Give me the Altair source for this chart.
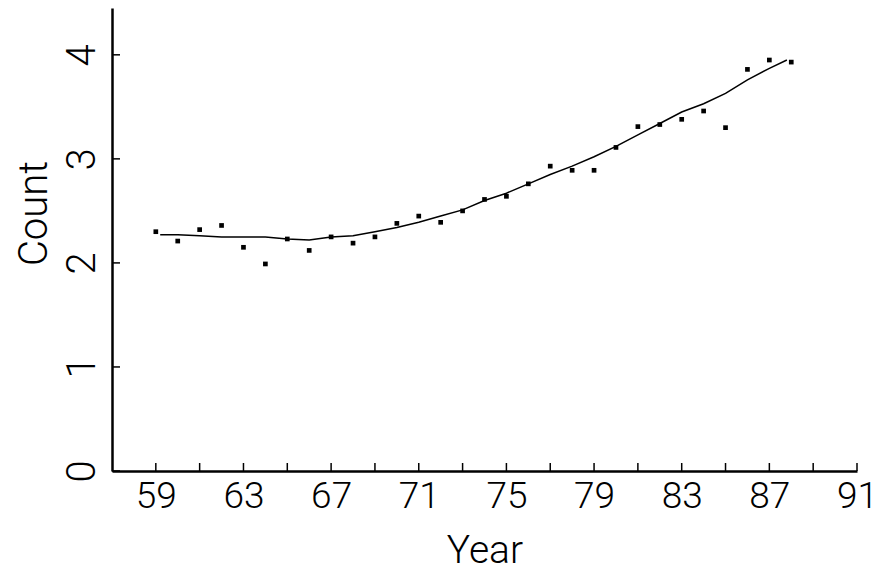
import altair as alt
import pandas as pd

# observed points
years = [59, 60, 61, 62, 63, 64, 65, 66, 67, 68, 69, 70, 71, 72, 73, 74,
         75, 76, 77, 78, 79, 80, 81, 82, 83, 84, 85, 86, 87, 88]
counts = [2.30, 2.21, 2.32, 2.36, 2.15, 1.99, 2.23, 2.12, 2.25, 2.19, 2.25,
          2.38, 2.45, 2.39, 2.50, 2.61, 2.64, 2.76, 2.93, 2.89, 2.89, 3.11,
          3.31, 3.33, 3.38, 3.46, 3.30, 3.86, 3.95, 3.93]

# smooth fitted curve
fit_years = [59.2, 60, 61, 62, 63, 64, 65, 66, 67, 68, 69, 70, 71, 72, 73,
             74, 75, 76, 77, 78, 79, 80, 81, 82, 83, 84, 85, 86, 87, 87.8]
fit_counts = [2.27, 2.27, 2.26, 2.25, 2.25, 2.25, 2.23, 2.22, 2.25, 2.26,
              2.30, 2.34, 2.39, 2.45, 2.51, 2.60, 2.67, 2.76, 2.85, 2.93,
              3.02, 3.12, 3.23, 3.34, 3.45, 3.53, 3.63, 3.76, 3.87, 3.95]

x_label_years = [59, 63, 67, 71, 75, 79, 83, 87, 91]
x_tick_years = [59, 61, 63, 65, 67, 69, 71, 73, 75, 77, 79, 81, 83, 85, 87, 89, 91]
y_ticks = [0, 1, 2, 3, 4]

FONT = "Roboto"
W, H = 745, 463

pts = pd.DataFrame({"Year": years, "Count": counts})
fit = pd.DataFrame({"Year": fit_years, "Count": fit_counts})
xt = pd.DataFrame({"Year": x_tick_years})
yt = pd.DataFrame({"Count": y_ticks})

xscale = alt.Scale(domain=[57, 91], nice=False, zero=False)
yscale = alt.Scale(domain=[0, 4.45], nice=False)

xaxis = alt.Axis(values=x_label_years, format="d", ticks=False, grid=False,
                 domainColor="black", domainWidth=2.5,
                 labelFont=FONT, labelFontSize=37, labelFontWeight=300,
                 labelColor="black", labelPadding=7, labelFlush=False,
                 title="Year", titleFont=FONT, titleFontSize=39,
                 titleFontWeight=300, titleColor="black", titlePadding=17)
yaxis = alt.Axis(values=y_ticks, format="d", ticks=False, grid=False,
                 domainColor="black", domainWidth=2.5,
                 labelFont=FONT, labelFontSize=40, labelFontWeight=300,
                 labelColor="black", labelAngle=270, labelAlign="center",
                 labelBaseline="bottom", labelPadding=10,
                 title="Count", titleFont=FONT, titleFontSize=40,
                 titleFontWeight=300, titleColor="black", titleAngle=270,
                 titleX=-58, titleY=205, titleAlign="center",
                 titleBaseline="bottom")

base_points = alt.Chart(pts).mark_point(
    shape="square", filled=True, color="black", size=22, opacity=1
).encode(
    x=alt.X("Year:Q", scale=xscale, axis=xaxis),
    y=alt.Y("Count:Q", scale=yscale, axis=yaxis),
)

line = alt.Chart(fit).mark_line(color="black", strokeWidth=1.5).encode(
    x=alt.X("Year:Q", scale=xscale),
    y=alt.Y("Count:Q", scale=yscale),
)

xticks = alt.Chart(xt).mark_rule(color="black", strokeWidth=1.5).encode(
    x=alt.X("Year:Q", scale=xscale),
    y=alt.value(H),
    y2=alt.value(H - 8),
)

yticks = alt.Chart(yt).mark_rule(color="black", strokeWidth=1.5).encode(
    y=alt.Y("Count:Q", scale=yscale),
    x=alt.value(0),
    x2=alt.value(8),
)

chart = alt.layer(base_points, line, xticks, yticks).properties(
    width=W, height=H,
    background="white",
    autosize=alt.AutoSizeParams(type="none"),
    padding={"left": 104, "top": 0, "right": 21, "bottom": 103},
).configure_view(strokeWidth=0, stroke="transparent")

chart.save("out.html", embed_options={"renderer": "svg", "actions": False})
